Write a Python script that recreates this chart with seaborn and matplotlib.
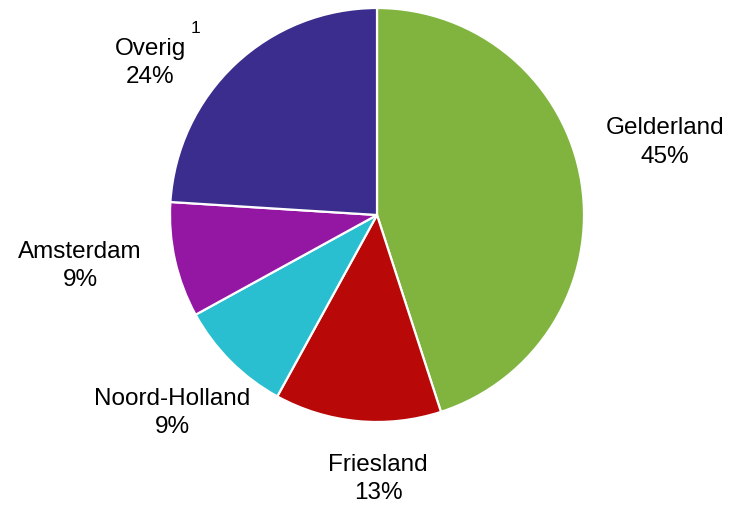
import matplotlib
matplotlib.use("Agg")
import matplotlib.pyplot as plt
import seaborn as sns

# Share per region (percent), clockwise from 12 o'clock
regions = ["Gelderland", "Friesland", "Noord-Holland", "Amsterdam", "Overig"]
shares = [45, 13, 9, 9, 24]
colors = ["#80B43F", "#B80808", "#2ABFD0", "#9317A2", "#3A2D8D"]

sns.set_theme(style="white")
plt.rcParams["font.family"] = ["Liberation Sans", "DejaVu Sans"]

fig = plt.figure(figsize=(7.32, 5.05), dpi=100)
ax = fig.add_axes([170 / 732, 83 / 505, 414 / 732, 414 / 505])

palette = sns.color_palette(colors)
ax.pie(
    shares,
    colors=palette,
    startangle=90,
    counterclock=False,
    radius=1.0,
    wedgeprops=dict(edgecolor="white", linewidth=1.6),
)
ax.set_xlim(-1, 1)
ax.set_ylim(-1, 1)
ax.set_aspect("equal")
ax.axis("off")

# label anchor points in axes data units (pie radius = 1)
label_pos = {
    "Gelderland": (1.39, 0.35),
    "Friesland": (0.005, -1.275),
    "Noord-Holland": (-0.99, -0.955),
    "Amsterdam": (-1.435, -0.245),
    "Overig": (-1.095, 0.735),
}
for name, val in zip(regions, shares):
    x, y = label_pos[name]
    ax.text(x, y, f"{name}\n{val}%", ha="center", va="center",
            fontsize=17.5, linespacing=1.36, color="black", clip_on=False)

# footnote marker on "Overig"
ax.text(-0.875, 0.9, "1", ha="center", va="center", fontsize=12.5,
        color="black", clip_on=False)

fig.savefig("out.png", dpi=100)
